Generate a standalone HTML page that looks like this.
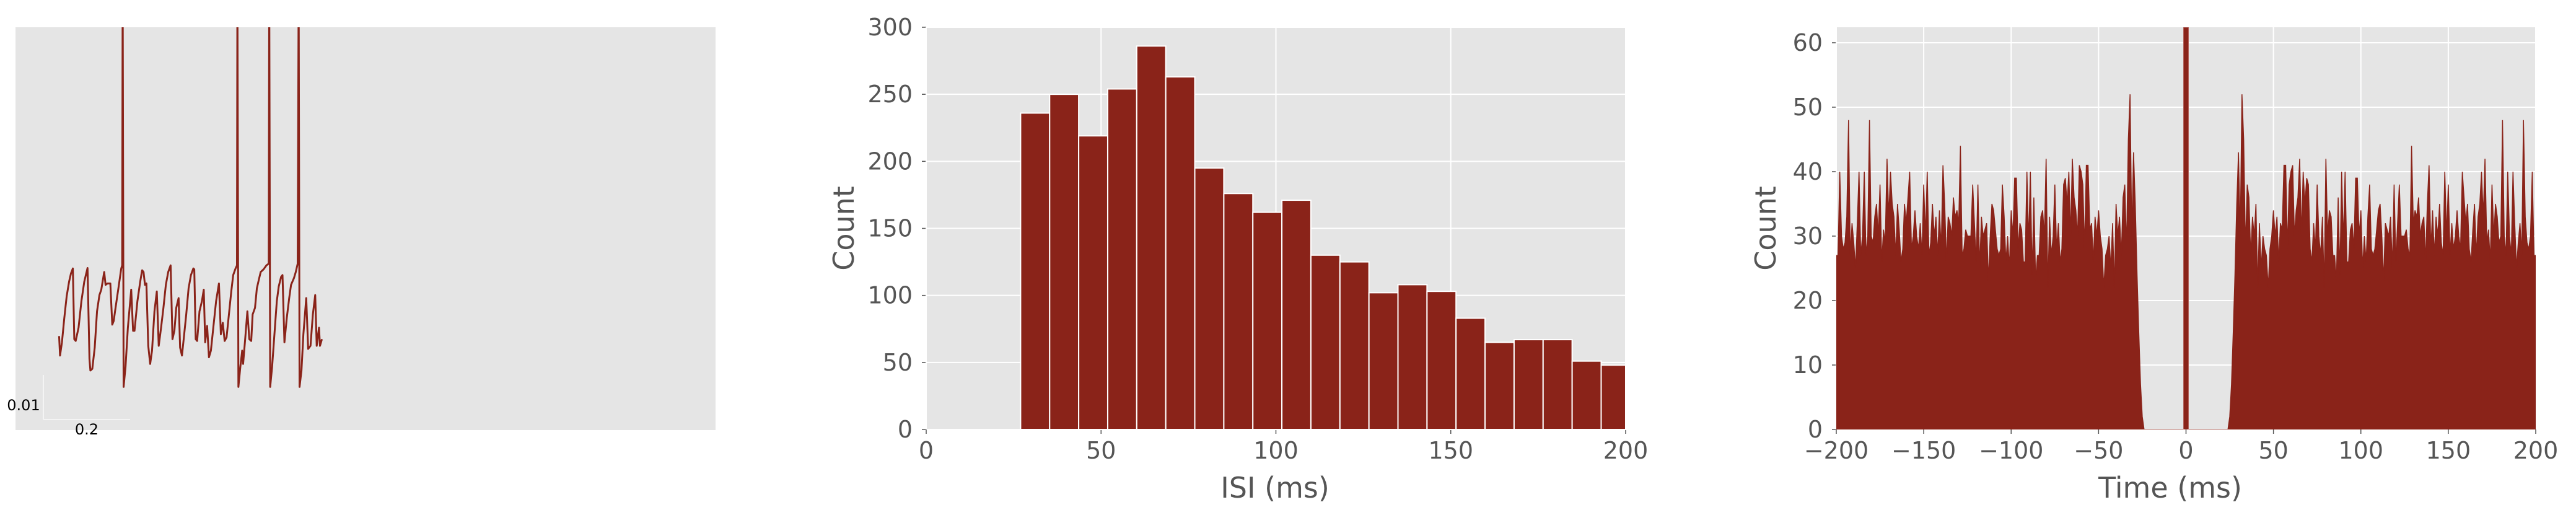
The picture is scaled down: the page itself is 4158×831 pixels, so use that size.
<!DOCTYPE html>
<html><head><meta charset="utf-8">
<style>
html,body{margin:0;padding:0;background:#fff;}
svg{display:block;font-family:"DejaVu Sans","Liberation Sans",sans-serif;}
</style></head>
<body>
<svg id="fig" width="4158" height="831" viewBox="0 0 4158 831" xmlns="http://www.w3.org/2000/svg">
<defs>
<clipPath id="clip1"><rect x="25" y="44" width="1130" height="650"/></clipPath>
<clipPath id="clip3"><rect x="2964" y="44" width="1129" height="649"/></clipPath>
</defs>
<g id="p1">
<rect x="25" y="44" width="1130" height="650" fill="#e5e5e5"/>
<g id="trace-g" clip-path="url(#clip1)"></g>
<line x1="70" y1="605" x2="70" y2="677" stroke="#f4f4f4" stroke-width="2"/>
<line x1="70" y1="677" x2="210" y2="677" stroke="#f4f4f4" stroke-width="2"/>
<text x="38" y="662" font-size="24" text-anchor="middle" fill="#000">0.01</text>
<text x="140" y="701" font-size="24" text-anchor="middle" fill="#000">0.2</text>
</g>
<g id="p2"></g>
<g id="p3"></g>
</svg>
<script>
// ---- Panel 1 data: membrane trace ----
const traceTimeMs = [0,2.2,6.5,12,17.4,22.9,27.3,31.6,34.9,38.2,44.7,51.2,57.8,65.4,69.8,71.9,76.3,81.8,87.2,92.7,97,103.6,106.8,111.2,117.7,122.1,125.4,129.7,136.3,142.8,145,146,148.2,152.6,158,165.7,170,173.3,179.9,186.4,190.8,194,197.3,200.6,204.9,209.3,213.6,219.1,224.5,228.9,234.4,239.8,245.3,250.7,256.2,260.5,264.9,269.2,274.7,278,282.3,286.7,292.1,297.6,303,308.5,310.7,313.9,317.2,322.6,328.1,332.5,335.7,340.1,344.4,348.8,354.3,360.8,367.3,371.7,376.1,380.4,384.8,390.2,395.7,400,405.5,408.8,409.8,412,416.4,420.7,422.9,427.3,432.7,437.1,441.5,444.7,450.2,454.5,458.9,463.3,469.8,476.3,481.8,482.9,485.1,489.4,493.8,500.3,504.7,510.1,513.4,517.8,523.2,528.7,533,539.6,543.9,548.3,550.5,552.6,557,561.4,567.9,572.3,577.7,583.2,588.6,591.9,597.3,599.5,603.9];
const traceVoltageMv = [-60.4,-64.8,-61.8,-56.3,-51.4,-48.1,-46.2,-45.1,-61.1,-61.5,-58.5,-52.5,-48.1,-45.0,-65.6,-68.2,-67.8,-63.0,-54.8,-51.1,-49.9,-45.9,-48.8,-48.5,-48.5,-57.8,-57.0,-54.0,-49.6,-45.1,-44.4,20,-71.9,-67.4,-58.5,-49.9,-59.2,-59.2,-52.5,-48.1,-45.5,-45.9,-48.8,-48.5,-62.6,-66.7,-63.7,-54.8,-50.3,-62.6,-58.5,-54.0,-48.8,-45.9,-44.4,-61.1,-59.2,-54.0,-51.8,-63.0,-64.8,-60.7,-55.5,-49.6,-46.6,-45.1,-45.3,-61.1,-61.5,-54.8,-52.5,-49.9,-61.8,-58.1,-65.2,-63.7,-58.5,-52.5,-48.5,-60.0,-57.4,-61.5,-60.7,-55.5,-50.3,-46.6,-45.1,-44.4,20,-71.9,-67.4,-63.7,-66.7,-61.5,-54.8,-61.1,-61.5,-55.5,-54.0,-49.6,-47.7,-45.9,-45.3,-44.4,-44.0,20,-71.9,-67.4,-61.5,-52.5,-49.2,-47.0,-46.6,-61.8,-56.3,-51.8,-48.8,-47.3,-45.9,-44.0,20,-71.9,-68.2,-60.0,-51.8,-63.3,-62.6,-55.5,-51.1,-62.6,-58.5,-62.6,-61.1];

// ---- Panel 2 data: ISI histogram ----
const isiBinStart = 27;
const isiBinWidth = 8.3;
const isiCounts = [236,250,219,254,286,263,195,176,162,171,130,125,102,108,103,83,65,67,67,51,48];
const isiYTicks = [0,50,100,150,200,250,300];
const isiXTicks = [0,50,100,150,200];

// ---- Panel 3 data: autocorrelogram (positive lags 0..200 ms, mirrored) ----
const acgLagsMs = [];
for (let i = 0; i <= 200; i++) acgLagsMs.push(i);
const acgCountsPos = [400,0,0,0,0,0,0,0,0,0,0,0,0,0,0,0,0,0,0,0,0,0,0,0,0,2,7,15,24,35,43,30,52,45,28,38,36,27,33,30,35,22,32,25,30,28,27,22,28,30,34,30,33,26,32,31,41,41,28,38,40,41,30,34,36,42,30,40,35,39,38,28,26,32,28,38,30,27,33,22,42,30,34,33,27,27,23,36,24,40,29,40,26,26,31,32,28,39,39,30,34,25,30,26,33,38,28,27,28,31,34,35,30,23,32,31,30,33,25,38,26,32,38,30,30,30,31,28,27,44,32,34,33,36,30,32,33,26,35,41,28,34,27,33,30,35,29,27,40,30,38,27,32,28,30,34,30,28,40,36,32,35,28,26,31,35,27,33,35,40,33,42,29,31,26,38,30,35,33,29,30,48,30,27,40,30,27,40,32,25,29,32,27,48,33,29,28,30,40,27,27];
const acgYTicks = [0,10,20,30,40,50,60];
const acgXTicks = [-200,-150,-100,-50,0,50,100,150,200];

const NS = "http://www.w3.org/2000/svg";
const RED = "#8a2319";
function mk(tag, attrs, parent) {
  const e = document.createElementNS(NS, tag);
  for (const k in attrs) e.setAttribute(k, attrs[k]);
  parent.appendChild(e);
  return e;
}

// Panel 1
(function(){
  const g = document.getElementById('trace-g');
  const sx = t => 95.4 + t * 0.7024;
  const sy = v => 625 - (v + 72) * 7.13;
  const pts = traceTimeMs.map((t, i) => sx(t).toFixed(1) + ',' + sy(traceVoltageMv[i]).toFixed(1)).join(' ');
  const pl = mk('polyline', {points: pts, fill: 'none', stroke: RED, 'stroke-width': 3, 'stroke-linejoin': 'round'}, g);
  
  
})();

function axesFrame(g, L, T, R, B, xTicks, yTicks, sx, sy, xlabel, xlabelX, ylabelX, prefix) {
  const bg = mk('rect', {x: L, y: T, width: R - L, height: B - T, fill: '#e5e5e5'}, g);
  
  
  yTicks.forEach(v => {
    const y = sy(v);
    const gl = mk('line', {x1: L, x2: R, y1: y, y2: y, stroke: '#fff', 'stroke-width': 2}, g);
    
    
    const tk = mk('line', {x1: L - 7, x2: L, y1: y, y2: y, stroke: '#555', 'stroke-width': 1.5}, g);
    
    
    const tl = mk('text', {x: L - 22, y: y + 13, 'font-size': 38, 'text-anchor': 'end', fill: '#555'}, g);
    tl.textContent = String(v).replace('-', '\u2212');
    
    
  });
  xTicks.forEach(v => {
    const x = sx(v);
    const gl = mk('line', {x1: x, x2: x, y1: T, y2: B, stroke: '#fff', 'stroke-width': 2}, g);
    
    
    const tk = mk('line', {x1: x, x2: x, y1: B, y2: B + 7, stroke: '#555', 'stroke-width': 1.5}, g);
    
    
    const tl = mk('text', {x: x, y: 740, 'font-size': 38, 'text-anchor': 'middle', fill: '#555'}, g);
    tl.textContent = String(v).replace('-', '\u2212');
    
    
  });
  const xl = mk('text', {x: xlabelX, y: 803, 'font-size': 46, 'text-anchor': 'middle', fill: '#555'}, g);
  xl.textContent = xlabel;
  
  
  const yl = mk('text', {x: 0, y: 16, 'font-size': 46, 'text-anchor': 'middle', fill: '#555', transform: 'translate(' + ylabelX + ',' + ((T + B) / 2) + ') rotate(-90)'}, g);
  yl.textContent = 'Count';
  
  
}

// Panel 2
(function(){
  const g = document.getElementById('p2');
  const L = 1495, R = 2624, T = 44, B = 693;
  const sx = v => L + (v / 200) * (R - L);
  const sy = v => B - (v / 300) * (B - T);
  axesFrame(g, L, T, R, B, isiXTicks, isiYTicks, sx, sy, 'ISI (ms)', 2058, 1362, 'isi');
  isiCounts.forEach((c, i) => {
    const x0 = isiBinStart + i * isiBinWidth;
    const x1 = Math.min(200, x0 + isiBinWidth);
    const r = mk('rect', {x: sx(x0), y: sy(c), width: sx(x1) - sx(x0), height: B - sy(c), fill: RED, stroke: '#fff', 'stroke-width': 2}, g);
    
    
  });
})();

// Panel 3
(function(){
  const g = document.getElementById('p3');
  const L = 2964, R = 4093, T = 44, B = 693;
  const yMax = 62.4;
  const sx = v => L + ((v + 200) / 400) * (R - L);
  const sy = v => B - (v / yMax) * (B - T);
  axesFrame(g, L, T, R, B, acgXTicks, acgYTicks, sx, sy, 'Time (ms)', 3503, 2850, 'acg');
  const lags = [], vals = [];
  for (let i = acgLagsMs.length - 1; i >= 1; i--) { lags.push(-acgLagsMs[i]); vals.push(acgCountsPos[i]); }
  for (let i = 0; i < acgLagsMs.length; i++) { lags.push(acgLagsMs[i]); vals.push(acgCountsPos[i]); }
  let d = 'M' + sx(lags[0]).toFixed(1) + ',' + B;
  lags.forEach((t, i) => { d += ' L' + sx(t).toFixed(1) + ',' + sy(vals[i]).toFixed(1); });
  d += ' L' + sx(lags[lags.length - 1]).toFixed(1) + ',' + B + ' Z';
  const cg = mk('g', {'clip-path': 'url(#clip3)'}, g);
  const p = mk('path', {d: d, fill: RED, stroke: RED, 'stroke-width': 1.5}, cg);
  
  
  const spike = mk('rect', {x: sx(0) - 4, y: T, width: 8, height: B - T, fill: RED, stroke: '#b0605a', 'stroke-width': 1}, cg);
  
  
})();
</script>
</body></html>
